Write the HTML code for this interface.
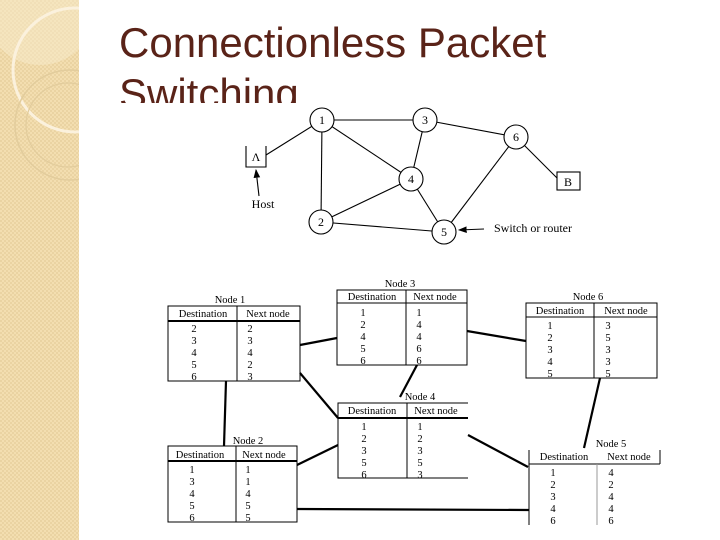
<!DOCTYPE html>
<html><head><style>
html,body{margin:0;padding:0;width:720px;height:540px;overflow:hidden;background:#fff}
</style></head><body>
<svg width="720" height="540" xmlns="http://www.w3.org/2000/svg" style="display:block">
<defs>
<pattern id="p" width="4" height="4" patternUnits="userSpaceOnUse">
<rect width="4" height="4" fill="#f3deb0"/><rect width="2" height="2" fill="#ead3a2"/><rect x="2" y="2" width="2" height="2" fill="#ead3a2"/>
</pattern>
<marker id="ah" markerWidth="8" markerHeight="8" refX="7" refY="4" orient="auto"><path d="M0,1 L8,4 L0,7 Z" fill="#000"/></marker>
</defs>
<rect width="79" height="540" fill="url(#p)"/>
<circle cx="40" cy="10" r="55" fill="#f8ebcc" opacity="0.5"/>
<circle cx="75" cy="70" r="62" fill="none" stroke="#fbf1dd" stroke-width="3"/>
<circle cx="70" cy="125" r="55" fill="none" stroke="#e2cc9c" stroke-width="1.5"/>
<circle cx="68" cy="125" r="42" fill="none" stroke="#e2cc9c" stroke-width="1.2"/>
<rect x="79" y="0" width="641" height="540" fill="#fff"/>
<g font-family="Liberation Sans, sans-serif" font-size="42" fill="#5a2318">
<text x="119" y="57">Connectionless Packet</text>
<text x="119" y="108">Switching</text>
</g>
<rect x="79" y="103" width="641" height="437" fill="#fff"/>

<!-- graph -->
<g stroke="#000" stroke-width="1.1" fill="none">
<line x1="322" y1="120" x2="425" y2="120"/>
<line x1="322" y1="120" x2="321" y2="222"/>
<line x1="322" y1="120" x2="411" y2="179"/>
<line x1="322" y1="120" x2="266" y2="155"/>
<line x1="425" y1="120" x2="411" y2="179"/>
<line x1="425" y1="120" x2="516" y2="137"/>
<line x1="411" y1="179" x2="321" y2="222"/>
<line x1="411" y1="179" x2="444" y2="232"/>
<line x1="321" y1="222" x2="444" y2="232"/>
<line x1="516" y1="137" x2="444" y2="232"/>
<line x1="516" y1="137" x2="557" y2="178"/>
<path d="M246,146 V167 H266 V146"/>
<rect x="557" y="172" width="23" height="18"/>
<line x1="259" y1="196" x2="256" y2="170" marker-end="url(#ah)"/>
<line x1="484" y1="229" x2="459" y2="230" marker-end="url(#ah)"/>
</g>
<g stroke="#000" stroke-width="1.1" fill="#fff">
<circle cx="322" cy="120" r="12"/><circle cx="425" cy="120" r="12"/><circle cx="516" cy="137" r="12"/>
<circle cx="411" cy="179" r="12"/><circle cx="321" cy="222" r="12"/><circle cx="444" cy="232" r="12"/>
</g>
<g font-family="Liberation Serif, serif" font-size="12" text-anchor="middle" fill="#000">
<text x="322" y="124">1</text><text x="425" y="124">3</text><text x="516" y="141">6</text>
<text x="411" y="183">4</text><text x="321" y="226">2</text><text x="444" y="236">5</text>
<text x="256" y="161">Λ</text><text x="568" y="186">B</text>
<text x="263" y="208">Host</text>
<text x="533" y="232">Switch or router</text>
</g>

<!-- connectors -->
<g stroke="#000" stroke-width="2.2">
<line x1="300" y1="345" x2="337" y2="338"/>
<line x1="300" y1="373" x2="338" y2="418"/>
<line x1="226" y1="381" x2="224" y2="446"/>
<line x1="297" y1="465" x2="338" y2="445"/>
<line x1="297" y1="509" x2="529" y2="510"/>
<line x1="417" y1="365" x2="400" y2="397"/>
<line x1="467" y1="331" x2="526" y2="341"/>
<line x1="600" y1="378" x2="584" y2="448"/>
<line x1="468" y1="435" x2="528" y2="467"/>
</g>

<g font-family="Liberation Serif, serif" font-size="10.5" fill="#000" text-anchor="middle">
<g transform="translate(168,306)">
<text x="62" y="-3">Node 1</text>
<rect x="0" y="0" width="132" height="75" fill="none" stroke="#000"/>
<line x1="0" y1="15" x2="132" y2="15" stroke="#000" stroke-width="2"/>
<line x1="69" y1="0" x2="69" y2="75" stroke="#000"/>
<text x="35" y="11">Destination</text><text x="100" y="11">Next node</text>
<text x="26" y="26">2</text><text x="82" y="26">2</text>
<text x="26" y="38">3</text><text x="82" y="38">3</text>
<text x="26" y="50">4</text><text x="82" y="50">4</text>
<text x="26" y="62">5</text><text x="82" y="62">2</text>
<text x="26" y="74">6</text><text x="82" y="74">3</text>
</g>
<g transform="translate(337,290)">
<text x="63" y="-3">Node 3</text>
<rect x="0" y="0" width="130" height="75" fill="none" stroke="#000"/>
<line x1="0" y1="13" x2="130" y2="13" stroke="#000"/>
<line x1="69" y1="0" x2="69" y2="75" stroke="#000"/>
<text x="35" y="10">Destination</text><text x="98" y="10">Next node</text>
<text x="26" y="26">1</text><text x="82" y="26">1</text>
<text x="26" y="38">2</text><text x="82" y="38">4</text>
<text x="26" y="50">4</text><text x="82" y="50">4</text>
<text x="26" y="62">5</text><text x="82" y="62">6</text>
<text x="26" y="74">6</text><text x="82" y="74">6</text>
</g>
<g transform="translate(526,303)">
<text x="62" y="-3">Node 6</text>
<rect x="0" y="0" width="131" height="75" fill="none" stroke="#000"/>
<line x1="0" y1="14" x2="131" y2="14" stroke="#000"/>
<line x1="68" y1="0" x2="68" y2="75" stroke="#000"/>
<text x="34" y="11">Destination</text><text x="100" y="11">Next node</text>
<text x="24" y="26">1</text><text x="82" y="26">3</text>
<text x="24" y="38">2</text><text x="82" y="38">5</text>
<text x="24" y="50">3</text><text x="82" y="50">3</text>
<text x="24" y="62">4</text><text x="82" y="62">3</text>
<text x="24" y="74">5</text><text x="82" y="74">5</text>
</g>
<g transform="translate(338,403)">
<text x="82" y="-3">Node 4</text>
<path d="M130,0 H0 V75 H130" fill="none" stroke="#000"/>
<line x1="0" y1="15" x2="130" y2="15" stroke="#000" stroke-width="2"/>
<line x1="69" y1="0" x2="69" y2="75" stroke="#000"/>
<text x="34" y="11">Destination</text><text x="98" y="11">Next node</text>
<text x="26" y="27">1</text><text x="82" y="27">1</text>
<text x="26" y="39">2</text><text x="82" y="39">2</text>
<text x="26" y="51">3</text><text x="82" y="51">3</text>
<text x="26" y="63">5</text><text x="82" y="63">5</text>
<text x="26" y="75">6</text><text x="82" y="75">3</text>
</g>
<g transform="translate(168,446)">
<text x="80" y="-2">Node 2</text>
<rect x="0" y="0" width="129" height="76" fill="none" stroke="#000"/>
<line x1="0" y1="15" x2="129" y2="15" stroke="#000" stroke-width="2"/>
<line x1="68" y1="0" x2="68" y2="76" stroke="#000"/>
<text x="32" y="12">Destination</text><text x="96" y="12">Next node</text>
<text x="24" y="27">1</text><text x="80" y="27">1</text>
<text x="24" y="39">3</text><text x="80" y="39">1</text>
<text x="24" y="51">4</text><text x="80" y="51">4</text>
<text x="24" y="63">5</text><text x="80" y="63">5</text>
<text x="24" y="75">6</text><text x="80" y="75">5</text>
</g>
<g transform="translate(529,450)">
<text x="82" y="-3">Node 5</text>
<path d="M0,0 V75 M131,0 V14 M0,14 H131" fill="none" stroke="#000"/>
<line x1="68" y1="14" x2="68" y2="75" stroke="#999"/>
<text x="35" y="10">Destination</text><text x="100" y="10">Next node</text>
<text x="24" y="26">1</text><text x="82" y="26">4</text>
<text x="24" y="38">2</text><text x="82" y="38">2</text>
<text x="24" y="50">3</text><text x="82" y="50">4</text>
<text x="24" y="62">4</text><text x="82" y="62">4</text>
<text x="24" y="74">6</text><text x="82" y="74">6</text>
</g>
</g>
</svg>
</body></html>
